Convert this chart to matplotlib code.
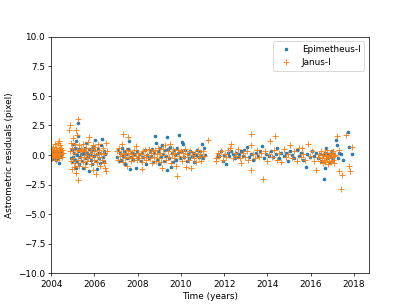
import numpy as np
import matplotlib
matplotlib.use("Agg")
import matplotlib.pyplot as plt

# Epimetheus-I residuals: (time in years, residual in pixels)
epi_t = [
    2004.02, 2004.04, 2004.06, 2004.08, 2004.10, 2004.12, 2004.14, 2004.17, 2004.20, 2004.22,
    2004.25, 2004.28, 2004.30, 2004.33, 2004.36, 2004.38, 2004.41, 2004.44, 2004.47, 2004.50,
    2004.92, 2004.95, 2004.98, 2005.00, 2005.03, 2005.06, 2005.08, 2005.10, 2005.12, 2005.14,
    2005.16, 2005.18, 2005.20, 2005.22, 2005.24, 2005.26, 2005.28, 2005.30, 2005.33, 2005.36,
    2005.42, 2005.45, 2005.48, 2005.52, 2005.55, 2005.58, 2005.60, 2005.63, 2005.66, 2005.70,
    2005.73, 2005.76, 2005.80, 2005.83, 2005.86, 2005.90, 2005.93, 2005.96, 2006.00, 2006.04,
    2006.07, 2006.10, 2006.13, 2006.16, 2006.20, 2006.23, 2006.26, 2006.30, 2006.35, 2006.38,
    2006.42, 2006.46, 2006.50,
    2007.05, 2007.10, 2007.15, 2007.20, 2007.23, 2007.27, 2007.31, 2007.35, 2007.40, 2007.45,
    2007.50, 2007.55, 2007.61, 2007.66, 2007.70, 2007.75, 2007.80, 2007.85, 2007.92, 2007.96,
    2008.02, 2008.08, 2008.14, 2008.20, 2008.26, 2008.32, 2008.38, 2008.44, 2008.50, 2008.56,
    2008.62, 2008.68,
    2008.72, 2008.76, 2008.81, 2008.86, 2008.90, 2008.95, 2009.00, 2009.05, 2009.10, 2009.14,
    2009.18, 2009.22, 2009.27, 2009.32, 2009.36, 2009.36, 2009.40, 2009.45, 2009.50, 2009.54,
    2009.58, 2009.63, 2009.68, 2009.72, 2009.77, 2009.82, 2009.87, 2009.93, 2009.97, 2010.02,
    2010.06, 2010.10, 2010.15, 2010.20, 2010.26, 2010.32, 2010.38, 2010.44, 2010.50, 2010.56,
    2010.62, 2010.68, 2010.75, 2010.82, 2010.88, 2010.94, 2010.99, 2011.04, 2011.08, 2011.12,
    2011.65, 2011.72, 2011.78, 2011.85, 2011.93, 2012.00, 2012.09, 2012.16, 2012.24, 2012.32,
    2012.40, 2012.48, 2012.55, 2012.63, 2012.70, 2012.78, 2012.86, 2012.93,
    2013.07, 2013.15, 2013.25, 2013.35, 2013.45, 2013.55, 2013.65, 2013.77, 2013.85, 2013.95,
    2014.09, 2014.18, 2014.28, 2014.38, 2014.46, 2014.55, 2014.65, 2014.75, 2014.86, 2014.95,
    2015.05, 2015.15, 2015.25, 2015.35, 2015.45, 2015.55, 2015.65, 2015.79, 2015.85, 2015.95,
    2016.05, 2016.15, 2016.25,
    2016.35, 2016.42, 2016.48, 2016.55, 2016.60, 2016.64, 2016.68, 2016.72, 2016.76, 2016.80,
    2016.85, 2016.90, 2016.95, 2017.00, 2017.05, 2017.10, 2017.15, 2017.20, 2017.25, 2017.30,
    2017.38, 2017.50, 2017.72, 2017.75, 2017.92,
]
epi_r = [
    -0.25, 0.10, -0.35, 0.15, -0.10, 0.30, -0.20, 0.05, -0.40, 0.20,
    -0.15, 0.10, -0.30, 0.25, -0.70, 0.00, 0.15, -0.20, 0.35, 0.05,
    -0.30, 0.40, -0.60, 0.90, -0.20, 0.20, -1.00, 0.60, -0.40, -1.07,
    1.20, 0.00, -0.50, 1.60, 2.70, 0.30, -0.80, 0.50, -0.20, 0.10,
    -0.50, 0.30, -1.10, 0.10, -0.30, 0.60, 1.00, -0.70, 0.20, -0.20,
    0.50, -1.40, 0.00, -0.40, 0.30, -0.80, 0.70, -0.10, 0.40, 1.30,
    -0.50, 0.10, -1.15, 0.50, -0.30, 0.20, -0.70, 0.80, 1.35, -0.20,
    0.30, -0.50, 0.10,
    -0.20, 0.40, -0.50, 0.20, -0.47, 0.60, -0.10, 0.30, -0.80, 0.10,
    -0.30, 0.50, 1.15, -1.15, -0.20, 0.20, -0.40, 0.10, -1.10, 0.30,
    -0.30, 0.10, -0.50, 0.20, -0.20, 0.40, -0.80, 0.00, -0.30, 0.30,
    -0.10, 0.50,
    -0.60, 0.20, 1.57, 1.00, -0.40, 0.30, -0.80, 0.60, -0.20, 0.80,
    0.10, -0.50, 0.40, -0.10, 1.50, -1.30, 0.50, -0.30, 0.70, -1.06,
    0.20, -0.60, 0.40, 0.00, -0.40, 0.60, 0.20, 1.66, -0.30, 0.30,
    1.10, 0.90, -0.20, 0.40, -0.50, 0.10, -0.30, 0.30, -0.10, 0.20,
    -0.60, 0.00, 0.40, -0.20, 0.30, -0.10, 0.90, -0.30, 0.58, 0.00,
    -0.20, 0.10, -0.13, 0.30, -0.55, 0.00, -0.80, 0.20, -0.10, 0.30,
    0.04, -0.30, 0.15, -0.20, 0.10, 0.30, -0.10, 0.45,
    0.64, -0.20, 0.10, -0.40, 0.20, -0.10, 0.30, 0.72, -0.30, 0.10,
    -0.13, 0.30, -0.20, 0.10, 0.58, -0.30, 0.20, -0.10, 0.15, -0.50,
    0.30, 0.00, -0.30, 0.40, -0.10, 0.20, -0.40, -0.98, 0.10, -0.20,
    0.30, -0.10, 0.20,
    -0.30, 0.10, -0.50, 0.00, -2.00, -1.10, 0.20, 0.55, -0.30, 0.10,
    -0.60, 0.00, -0.20, 0.30, -0.40, 0.10, 1.23, 0.80, -0.30, 0.20,
    0.04, -0.40, 1.94, 0.64, 0.04,
]

# Janus-I residuals
jan_t = [
    2004.02, 2004.04, 2004.06, 2004.08, 2004.10, 2004.12, 2004.14, 2004.16, 2004.18, 2004.20,
    2004.22, 2004.24, 2004.26, 2004.28, 2004.30, 2004.32, 2004.34, 2004.36, 2004.37, 2004.38,
    2004.40, 2004.42, 2004.45, 2004.48, 2004.50, 2004.53,
    2004.83, 2004.86, 2004.88, 2004.90, 2004.93, 2004.96, 2004.98, 2005.01, 2005.03, 2005.06,
    2005.08, 2005.10, 2005.12, 2005.14, 2005.14, 2005.17, 2005.19, 2005.22, 2005.24, 2005.26,
    2005.28, 2005.30, 2005.33, 2005.36, 2005.38,
    2005.42, 2005.45, 2005.48, 2005.51, 2005.54, 2005.57, 2005.60, 2005.63, 2005.66, 2005.69,
    2005.72, 2005.76, 2005.79, 2005.82, 2005.85, 2005.88, 2005.91, 2005.94, 2005.97, 2006.00,
    2006.03, 2006.07, 2006.10, 2006.13, 2006.16, 2006.20, 2006.23, 2006.27, 2006.30, 2006.34,
    2006.38, 2006.42, 2006.46, 2006.50, 2006.53, 2006.53, 2006.56,
    2007.05, 2007.09, 2007.13, 2007.17, 2007.21, 2007.27, 2007.30, 2007.33, 2007.37, 2007.41,
    2007.45, 2007.49, 2007.53, 2007.57, 2007.61, 2007.65, 2007.70, 2007.75, 2007.80, 2007.85,
    2007.90, 2007.94, 2007.98,
    2008.03, 2008.08, 2008.13, 2008.18, 2008.20, 2008.25, 2008.30, 2008.35, 2008.40, 2008.45,
    2008.50, 2008.55, 2008.60, 2008.65, 2008.70,
    2008.74, 2008.78, 2008.83, 2008.88, 2008.93, 2008.98, 2009.03, 2009.08, 2009.14, 2009.18,
    2009.23, 2009.28, 2009.33, 2009.38, 2009.43, 2009.48, 2009.53, 2009.58, 2009.63, 2009.68,
    2009.73, 2009.78, 2009.83, 2009.88, 2009.93, 2009.98, 2010.03, 2010.08, 2010.13, 2010.18,
    2010.24, 2010.29, 2010.35, 2010.41, 2010.47, 2010.53, 2010.59, 2010.65, 2010.71, 2010.77,
    2010.83, 2010.89, 2010.95, 2011.01, 2011.07, 2011.27,
    2011.62, 2011.64, 2011.70, 2011.78, 2011.86, 2011.94, 2012.02, 2012.10, 2012.18, 2012.27,
    2012.33, 2012.40, 2012.48, 2012.56, 2012.64, 2012.72, 2012.78, 2012.86, 2012.94,
    2013.05, 2013.12, 2013.24, 2013.24, 2013.24, 2013.32, 2013.42, 2013.52, 2013.62, 2013.70,
    2013.78, 2013.88, 2013.98, 2014.06, 2014.14, 2014.22, 2014.30, 2014.37, 2014.45, 2014.55,
    2014.65, 2014.75, 2014.85, 2014.95, 2015.05, 2015.15, 2015.25, 2015.35, 2015.45, 2015.55,
    2015.60, 2015.65, 2015.75, 2015.86, 2015.95, 2016.05, 2016.15, 2016.25,
    2016.35, 2016.40, 2016.44, 2016.48, 2016.52, 2016.55, 2016.58, 2016.62, 2016.65, 2016.68,
    2016.71, 2016.74, 2016.77, 2016.80, 2016.83, 2016.86, 2016.89, 2016.92, 2016.95, 2016.98,
    2017.01, 2017.04, 2017.07, 2017.10, 2017.13, 2017.20, 2017.30, 2017.33, 2017.41, 2017.45,
    2017.64, 2017.75, 2017.83, 2017.89,
]
jan_r = [
    0.20, -0.30, 0.50, 0.00, 0.70, -0.20, 0.30, 0.90, 0.10, -0.40,
    0.60, 0.20, -0.10, 0.40, 1.00, 0.00, 0.50, -0.30, 1.20, 0.30,
    0.80, 0.10, 0.60, -0.20, 0.40, 0.20,
    2.10, 2.50, 0.30, -0.50, 1.00, -1.20, 0.60, -0.30, 1.40, -1.00,
    0.20, 0.90, -0.70, 2.10, -1.50, 1.70, 0.40, -2.10, 3.00, -0.40,
    0.80, -0.90, 0.30, -0.20, 0.50,
    0.40, -0.60, 0.90, -0.20, 0.30, -1.00, 0.60, 0.00, -0.50, 1.10,
    -0.30, 1.50, 0.20, -0.80, 0.50, -0.10, 0.80, -1.30, 0.30, -0.40,
    0.70, -1.60, 0.10, -0.60, 0.90, -0.20, 0.40, -0.90, 0.20, -0.40,
    0.60, -0.70, 0.10, -1.10, 1.00, -1.40, 0.30,
    0.30, -0.40, 0.60, -0.10, 0.20, 0.90, -0.60, 1.77, 0.10, -0.30,
    0.40, -0.90, 0.20, 1.50, -0.20, 0.30, -0.50, 0.10, -0.30, 0.40,
    -0.10, 0.72, -0.40,
    0.20, -0.30, 0.10, -0.60, -1.20, 0.30, -0.20, 0.40, -0.40, 0.00,
    0.50, -0.30, 0.20, -0.70, 0.30,
    -0.20, 0.40, -0.50, 0.10, 0.60, -0.30, 0.20, -0.60, -1.10, 0.50,
    0.00, 0.80, -0.40, 0.30, -0.20, 0.90, -0.70, 0.10, 0.50, -0.30,
    0.20, -0.90, -1.80, 0.40, -0.10, 0.30, -0.50, 0.20, -0.20, 0.50,
    -1.00, 0.10, -0.40, 0.30, -1.10, 0.00, -0.30, 0.20, -0.60, 0.40,
    -0.20, 0.10, -0.50, 0.30, -0.10, 1.23,
    -0.27, -0.55, 0.20, -0.10, 0.30, -0.40, 0.10, -0.20, 0.40, 0.58,
    0.92, -0.30, 0.20, -0.10, 0.50, -0.30, -0.70, 0.20, -0.20,
    0.30, -0.40, 1.77, 0.85, -1.30, 0.10, -0.30, 0.40, -0.20, 0.20,
    -2.00, 0.30, -0.50, 0.10, 1.20, -0.20, 0.40, 1.57, -0.40, 0.20,
    -0.60, 0.50, -0.20, 0.10, 0.80, -0.30, 0.30, -0.50, 0.60, -0.20,
    0.55, 0.10, -0.40, 0.90, -0.10, 0.30, -0.50, -1.30,
    -0.20, 0.10, -0.50, 0.30, -0.30, -0.70, 0.00, -0.40, 0.20, -0.60,
    -0.10, 0.40, -0.30, -0.80, 0.00, -0.50, 0.20, -0.20, -0.60, 0.10,
    -0.40, 0.30, -0.10, -0.70, 0.00, 1.57, -1.40, 0.38, -2.85, -1.66,
    1.70, -0.90, -1.40, 0.64,
]

fig = plt.figure(figsize=(6.4, 4.8), dpi=64)
plt.plot(epi_t, epi_r, ".", label="Epimetheus-I")
plt.plot(jan_t, jan_r, "+", label="Janus-I")
plt.xlim(2004, 2018.68)
plt.ylim(-10, 10)
plt.xlabel("Time (years)")
plt.ylabel("Astrometric residuals (pixel)")
plt.legend(loc="upper right")
plt.savefig("out.png", dpi=64)
